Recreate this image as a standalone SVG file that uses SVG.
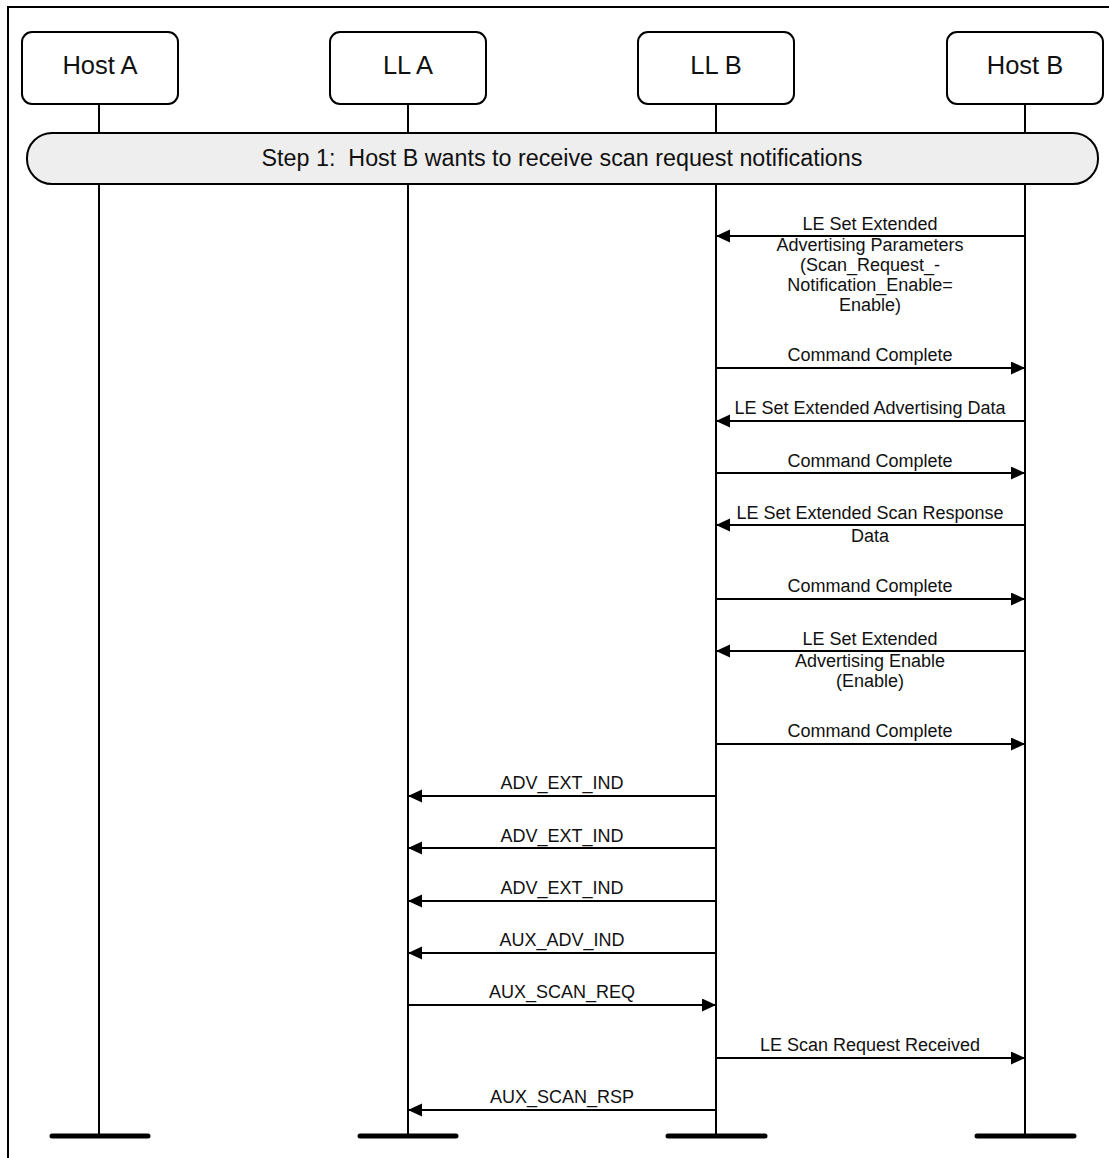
<svg xmlns="http://www.w3.org/2000/svg" width="1109" height="1158" viewBox="0 0 1109 1158">
<style>
.box{fill:#fff;stroke:#000;stroke-width:2}
.step{fill:#eeeeee;stroke:#000;stroke-width:2}
.life{stroke:#000;stroke-width:2;fill:none}
.bar{stroke:#000;stroke-width:5;stroke-linecap:round}
.msg{stroke:#000;stroke-width:2;fill:none;marker-end:url(#ah)}
.hdr{font-family:"Liberation Sans",Arial,sans-serif;font-size:25.5px;text-anchor:middle;fill:#111}
.st{font-family:"Liberation Sans",Arial,sans-serif;font-size:23.3px;text-anchor:middle;fill:#111}
.lbl{font-family:"Liberation Sans",Arial,sans-serif;font-size:18px;text-anchor:middle;fill:#111}
</style>
<defs>
<marker id="ah" markerUnits="userSpaceOnUse" markerWidth="16" markerHeight="14" refX="14" refY="6.5" orient="auto">
<path d="M0,0 L14,6.5 L0,13 Z" fill="#000"/>
</marker>
</defs>
<rect x="0" y="0" width="1109" height="1158" fill="#fff"/>
<path d="M8,1158 L8,7 L1109,7" fill="none" stroke="#000" stroke-width="2"/>
<g id="lifelines">
<line class="life" x1="99" y1="104" x2="99" y2="1136"/>
<line class="life" x1="408" y1="104" x2="408" y2="1136"/>
<line class="life" x1="716" y1="104" x2="716" y2="1136"/>
<line class="life" x1="1025" y1="104" x2="1025" y2="1136"/>
<line class="bar" x1="52" y1="1136" x2="148" y2="1136"/>
<line class="bar" x1="360" y1="1136" x2="456" y2="1136"/>
<line class="bar" x1="668" y1="1136" x2="765" y2="1136"/>
<line class="bar" x1="977" y1="1136" x2="1074" y2="1136"/>
</g>
<g id="hostA"><rect class="box" x="22" y="32" width="156" height="72" rx="10"/><text class="hdr" x="100" y="74">Host A</text></g>
<g id="llA"><rect class="box" x="330" y="32" width="156" height="72" rx="10"/><text class="hdr" x="408" y="74">LL A</text></g>
<g id="llB"><rect class="box" x="638" y="32" width="156" height="72" rx="10"/><text class="hdr" x="716" y="74">LL B</text></g>
<g id="hostB"><rect class="box" x="947" y="32" width="156" height="72" rx="10"/><text class="hdr" x="1025" y="74">Host B</text></g>
<g id="step1"><rect class="step" x="27" y="133" width="1071" height="51" rx="25"/><text class="st" x="562" y="166" xml:space="preserve">Step 1:  Host B wants to receive scan request notifications</text></g>
<g id="connectors">
<line class="msg" x1="1025" y1="236" x2="716" y2="236"/>
<line class="msg" x1="716" y1="368" x2="1025" y2="368"/>
<line class="msg" x1="1025" y1="421" x2="716" y2="421"/>
<line class="msg" x1="716" y1="473" x2="1025" y2="473"/>
<line class="msg" x1="1025" y1="525" x2="716" y2="525"/>
<line class="msg" x1="716" y1="599" x2="1025" y2="599"/>
<line class="msg" x1="1025" y1="651" x2="716" y2="651"/>
<line class="msg" x1="716" y1="744" x2="1025" y2="744"/>
<line class="msg" x1="716" y1="796" x2="408" y2="796"/>
<line class="msg" x1="716" y1="848" x2="408" y2="848"/>
<line class="msg" x1="716" y1="901" x2="408" y2="901"/>
<line class="msg" x1="716" y1="953" x2="408" y2="953"/>
<line class="msg" x1="408" y1="1005" x2="716" y2="1005"/>
<line class="msg" x1="716" y1="1058" x2="1025" y2="1058"/>
<line class="msg" x1="716" y1="1110" x2="408" y2="1110"/>
</g>
<g id="labels">
<text class="lbl" x="870" y="230">LE Set Extended</text>
<text class="lbl" x="870" y="251">Advertising Parameters</text>
<text class="lbl" x="870" y="271">(Scan_Request_-</text>
<text class="lbl" x="870" y="291">Notification_Enable=</text>
<text class="lbl" x="870" y="311">Enable)</text>
<text class="lbl" x="870" y="361">Command Complete</text>
<text class="lbl" x="870" y="414">LE Set Extended Advertising Data</text>
<text class="lbl" x="870" y="467">Command Complete</text>
<text class="lbl" x="870" y="519">LE Set Extended Scan Response</text>
<text class="lbl" x="870" y="542">Data</text>
<text class="lbl" x="870" y="592">Command Complete</text>
<text class="lbl" x="870" y="645">LE Set Extended</text>
<text class="lbl" x="870" y="667">Advertising Enable</text>
<text class="lbl" x="870" y="687">(Enable)</text>
<text class="lbl" x="870" y="737">Command Complete</text>
<text class="lbl" x="562" y="789">ADV_EXT_IND</text>
<text class="lbl" x="562" y="842">ADV_EXT_IND</text>
<text class="lbl" x="562" y="894">ADV_EXT_IND</text>
<text class="lbl" x="562" y="946">AUX_ADV_IND</text>
<text class="lbl" x="562" y="998">AUX_SCAN_REQ</text>
<text class="lbl" x="870" y="1051">LE Scan Request Received</text>
<text class="lbl" x="562" y="1103">AUX_SCAN_RSP</text>
</g>
</svg>
